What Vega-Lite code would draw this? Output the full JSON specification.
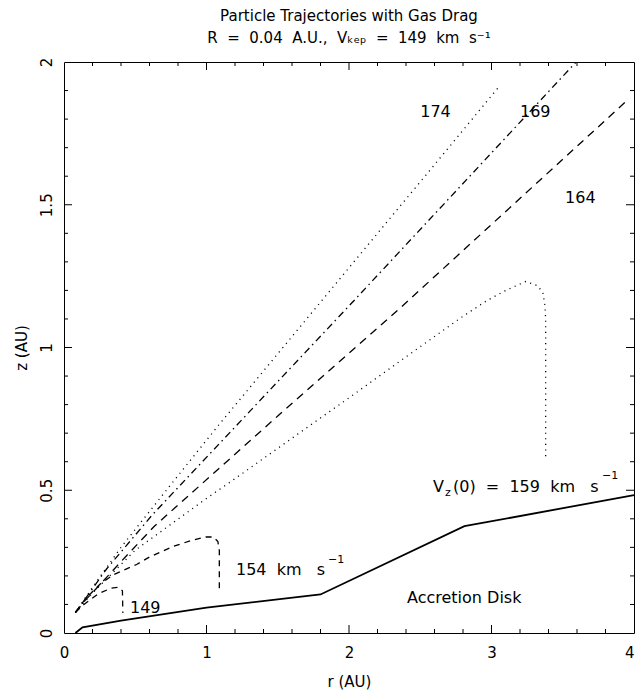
{
  "$schema": "https://vega.github.io/schema/vega-lite/v6.json",
  "width": 570,
  "height": 571,
  "autosize": {"type": "none"},
  "padding": {"left": 64, "top": 62, "right": 4, "bottom": 61},
  "background": "white",
  "title": {
    "text": "Particle Trajectories with Gas Drag",
    "subtitle": "R\u00a0\u00a0=\u00a0\u00a00.04\u00a0\u00a0A.U.,\u00a0\u00a0Vₖₑₚ\u00a0\u00a0=\u00a0\u00a0149\u00a0\u00a0km\u00a0\u00a0s⁻¹",
    "frame": "group",
    "anchor": "middle",
    "font": "DejaVu Sans",
    "fontSize": 15,
    "fontWeight": "normal",
    "color": "black",
    "subtitleFont": "DejaVu Sans",
    "subtitleFontSize": 15,
    "subtitleColor": "black",
    "subtitlePadding": 7,
    "offset": 11
  },
  "config": {
    "view": {"stroke": "black", "strokeWidth": 1},
    "axis": {
      "domain": false,
      "grid": false,
      "labelColor": "black",
      "labelFont": "DejaVu Sans",
      "labelFontSize": 15,
      "titleFont": "DejaVu Sans",
      "titleFontSize": 15,
      "titleFontWeight": "normal",
      "titleColor": "black"
    }
  },
  "datasets": {
    "traj": [
      {"v": "149", "i": 0, "r": 0.08, "z": 0.072},
      {"v": "149", "i": 1, "r": 0.14, "z": 0.1},
      {"v": "149", "i": 2, "r": 0.24, "z": 0.137},
      {"v": "149", "i": 3, "r": 0.33, "z": 0.157},
      {"v": "149", "i": 4, "r": 0.38, "z": 0.16},
      {"v": "149", "i": 5, "r": 0.41, "z": 0.148},
      {"v": "149", "i": 6, "r": 0.413, "z": 0.07},
      {"v": "154", "i": 0, "r": 0.08, "z": 0.072},
      {"v": "154", "i": 1, "r": 0.15, "z": 0.12},
      {"v": "154", "i": 2, "r": 0.25, "z": 0.17},
      {"v": "154", "i": 3, "r": 0.35, "z": 0.205},
      {"v": "154", "i": 4, "r": 0.51, "z": 0.24},
      {"v": "154", "i": 5, "r": 0.6, "z": 0.266},
      {"v": "154", "i": 6, "r": 0.77, "z": 0.304},
      {"v": "154", "i": 7, "r": 0.9, "z": 0.325},
      {"v": "154", "i": 8, "r": 1.0, "z": 0.337},
      {"v": "154", "i": 9, "r": 1.05, "z": 0.336},
      {"v": "154", "i": 10, "r": 1.08, "z": 0.32},
      {"v": "154", "i": 11, "r": 1.09, "z": 0.29},
      {"v": "154", "i": 12, "r": 1.09, "z": 0.15},
      {"v": "159", "i": 0, "r": 0.08, "z": 0.072},
      {"v": "159", "i": 1, "r": 0.2, "z": 0.14},
      {"v": "159", "i": 2, "r": 0.5, "z": 0.29},
      {"v": "159", "i": 3, "r": 1.01, "z": 0.475},
      {"v": "159", "i": 4, "r": 1.17, "z": 0.53},
      {"v": "159", "i": 5, "r": 1.76, "z": 0.739},
      {"v": "159", "i": 6, "r": 1.99, "z": 0.82},
      {"v": "159", "i": 7, "r": 2.36, "z": 0.953},
      {"v": "159", "i": 8, "r": 2.79, "z": 1.106},
      {"v": "159", "i": 9, "r": 2.97, "z": 1.165},
      {"v": "159", "i": 10, "r": 3.1, "z": 1.2},
      {"v": "159", "i": 11, "r": 3.24, "z": 1.231},
      {"v": "159", "i": 12, "r": 3.32, "z": 1.217},
      {"v": "159", "i": 13, "r": 3.36, "z": 1.194},
      {"v": "159", "i": 14, "r": 3.375, "z": 1.147},
      {"v": "159", "i": 15, "r": 3.38, "z": 1.1},
      {"v": "159", "i": 16, "r": 3.38, "z": 0.61},
      {"v": "164", "i": 0, "r": 0.08, "z": 0.072},
      {"v": "164", "i": 1, "r": 0.15, "z": 0.115},
      {"v": "164", "i": 2, "r": 0.25, "z": 0.168},
      {"v": "164", "i": 3, "r": 0.4, "z": 0.25},
      {"v": "164", "i": 4, "r": 0.634, "z": 0.374},
      {"v": "164", "i": 5, "r": 1.5, "z": 0.76},
      {"v": "164", "i": 6, "r": 2.365, "z": 1.141},
      {"v": "164", "i": 7, "r": 3.94, "z": 1.86},
      {"v": "169", "i": 0, "r": 0.08, "z": 0.072},
      {"v": "169", "i": 1, "r": 0.15, "z": 0.12},
      {"v": "169", "i": 2, "r": 0.3, "z": 0.225},
      {"v": "169", "i": 3, "r": 0.622, "z": 0.415},
      {"v": "169", "i": 4, "r": 2.014, "z": 1.153},
      {"v": "169", "i": 5, "r": 3.59, "z": 1.998},
      {"v": "174", "i": 0, "r": 0.08, "z": 0.072},
      {"v": "174", "i": 1, "r": 0.2, "z": 0.16},
      {"v": "174", "i": 2, "r": 0.4, "z": 0.3},
      {"v": "174", "i": 3, "r": 0.75, "z": 0.52},
      {"v": "174", "i": 4, "r": 1.08, "z": 0.725},
      {"v": "174", "i": 5, "r": 2.27, "z": 1.442},
      {"v": "174", "i": 6, "r": 2.54, "z": 1.604},
      {"v": "174", "i": 7, "r": 3.055, "z": 1.915}
    ],
    "disk": [
      {"r": 0.08, "z": 0.0},
      {"r": 0.13, "z": 0.02},
      {"r": 0.4, "z": 0.043},
      {"r": 1.0, "z": 0.089},
      {"r": 1.8, "z": 0.135},
      {"r": 2.81, "z": 0.374},
      {"r": 4.0, "z": 0.483}
    ],
    "xticks": [
      {"r": 0.2, "z": 0, "k": "minor"}, {"r": 0.4, "z": 0, "k": "minor"}, {"r": 0.6, "z": 0, "k": "minor"}, {"r": 0.8, "z": 0, "k": "minor"},
      {"r": 1, "z": 0, "k": "major"},
      {"r": 1.2, "z": 0, "k": "minor"}, {"r": 1.4, "z": 0, "k": "minor"}, {"r": 1.6, "z": 0, "k": "minor"}, {"r": 1.8, "z": 0, "k": "minor"},
      {"r": 2, "z": 0, "k": "major"},
      {"r": 2.2, "z": 0, "k": "minor"}, {"r": 2.4, "z": 0, "k": "minor"}, {"r": 2.6, "z": 0, "k": "minor"}, {"r": 2.8, "z": 0, "k": "minor"},
      {"r": 3, "z": 0, "k": "major"},
      {"r": 3.2, "z": 0, "k": "minor"}, {"r": 3.4, "z": 0, "k": "minor"}, {"r": 3.6, "z": 0, "k": "minor"}, {"r": 3.8, "z": 0, "k": "minor"},
      {"r": 0.2, "z": 2, "k": "minor"}, {"r": 0.4, "z": 2, "k": "minor"}, {"r": 0.6, "z": 2, "k": "minor"}, {"r": 0.8, "z": 2, "k": "minor"},
      {"r": 1, "z": 2, "k": "major"},
      {"r": 1.2, "z": 2, "k": "minor"}, {"r": 1.4, "z": 2, "k": "minor"}, {"r": 1.6, "z": 2, "k": "minor"}, {"r": 1.8, "z": 2, "k": "minor"},
      {"r": 2, "z": 2, "k": "major"},
      {"r": 2.2, "z": 2, "k": "minor"}, {"r": 2.4, "z": 2, "k": "minor"}, {"r": 2.6, "z": 2, "k": "minor"}, {"r": 2.8, "z": 2, "k": "minor"},
      {"r": 3, "z": 2, "k": "major"},
      {"r": 3.2, "z": 2, "k": "minor"}, {"r": 3.4, "z": 2, "k": "minor"}, {"r": 3.6, "z": 2, "k": "minor"}, {"r": 3.8, "z": 2, "k": "minor"}
    ],
    "yticks": [
      {"r": 0, "z": 0.1, "k": "minor"}, {"r": 0, "z": 0.2, "k": "minor"}, {"r": 0, "z": 0.3, "k": "minor"}, {"r": 0, "z": 0.4, "k": "minor"},
      {"r": 0, "z": 0.5, "k": "major"},
      {"r": 0, "z": 0.6, "k": "minor"}, {"r": 0, "z": 0.7, "k": "minor"}, {"r": 0, "z": 0.8, "k": "minor"}, {"r": 0, "z": 0.9, "k": "minor"},
      {"r": 0, "z": 1, "k": "major"},
      {"r": 0, "z": 1.1, "k": "minor"}, {"r": 0, "z": 1.2, "k": "minor"}, {"r": 0, "z": 1.3, "k": "minor"}, {"r": 0, "z": 1.4, "k": "minor"},
      {"r": 0, "z": 1.5, "k": "major"},
      {"r": 0, "z": 1.6, "k": "minor"}, {"r": 0, "z": 1.7, "k": "minor"}, {"r": 0, "z": 1.8, "k": "minor"}, {"r": 0, "z": 1.9, "k": "minor"},
      {"r": 4, "z": 0.1, "k": "minor"}, {"r": 4, "z": 0.2, "k": "minor"}, {"r": 4, "z": 0.3, "k": "minor"}, {"r": 4, "z": 0.4, "k": "minor"},
      {"r": 4, "z": 0.5, "k": "major"},
      {"r": 4, "z": 0.6, "k": "minor"}, {"r": 4, "z": 0.7, "k": "minor"}, {"r": 4, "z": 0.8, "k": "minor"}, {"r": 4, "z": 0.9, "k": "minor"},
      {"r": 4, "z": 1, "k": "major"},
      {"r": 4, "z": 1.1, "k": "minor"}, {"r": 4, "z": 1.2, "k": "minor"}, {"r": 4, "z": 1.3, "k": "minor"}, {"r": 4, "z": 1.4, "k": "minor"},
      {"r": 4, "z": 1.5, "k": "major"},
      {"r": 4, "z": 1.6, "k": "minor"}, {"r": 4, "z": 1.7, "k": "minor"}, {"r": 4, "z": 1.8, "k": "minor"}, {"r": 4, "z": 1.9, "k": "minor"}
    ],
    "labels": [
      {"t": "174", "r": 2.5, "z": 1.807},
      {"t": "169", "r": 3.2, "z": 1.807},
      {"t": "164", "r": 3.516, "z": 1.506},
      {"t": "154\u00a0\u00a0km\u00a0\u00a0\u00a0s", "r": 1.207, "z": 0.203},
      {"t": "149", "r": 0.463, "z": 0.07},
      {"t": "Accretion Disk", "r": 2.407, "z": 0.105},
      {"t": "V", "r": 2.59, "z": 0.495},
      {"t": "(0)\u00a0\u00a0=\u00a0\u00a0159\u00a0\u00a0km\u00a0\u00a0\u00a0s", "r": 2.73, "z": 0.495}
    ],
    "small": [
      {"t": "−1", "r": 1.853, "z": 0.245},
      {"t": "z", "r": 2.674, "z": 0.48},
      {"t": "−1", "r": 3.775, "z": 0.539}
    ]
  },
  "layer": [
    {
      "data": {"name": "traj"},
      "mark": {"type": "line", "strokeWidth": 1.3, "color": "black"},
      "encoding": {
        "x": {
          "field": "r", "type": "quantitative",
          "scale": {"domain": [0, 4], "nice": false, "zero": false},
          "axis": {
            "orient": "bottom",
            "title": "r (AU)",
            "titlePadding": 14,
            "values": [0, 1, 2, 3, 4],
            "format": "d",
            "ticks": false,
            "tickSize": 0,
            "labelPadding": 12,
            "labelFlush": false,
            "labelOverlap": false,
            "labelAlign": {"condition": {"test": "datum.value === 4", "value": "right"}, "value": "center"}
          }
        },
        "y": {
          "field": "z", "type": "quantitative",
          "scale": {"domain": [0, 2], "nice": false, "zero": false},
          "axis": {
            "orient": "left",
            "title": "z (AU)",
            "titlePadding": 10,
            "values": [0, 0.5, 1, 1.5, 2],
            "format": "~g",
            "ticks": false,
            "tickSize": 0,
            "labelAngle": -90,
            "labelPadding": 10,
            "labelFlush": false,
            "labelOverlap": false
          }
        },
        "strokeDash": {
          "field": "v", "type": "nominal", "legend": null,
          "scale": {
            "domain": ["149", "154", "159", "164", "169", "174"],
            "range": [[6, 5], [6, 5], [1.1, 4.5], [8, 6], [7, 4, 1.5, 4], [1.1, 4.5]]
          }
        },
        "detail": {"field": "v"},
        "order": {"field": "i", "type": "quantitative"}
      }
    },
    {
      "data": {"name": "disk"},
      "mark": {"type": "line", "strokeWidth": 1.8, "color": "black"},
      "encoding": {
        "x": {"field": "r", "type": "quantitative", "axis": null},
        "y": {"field": "z", "type": "quantitative", "axis": null},
        "order": {"field": "r", "type": "quantitative"}
      }
    },
    {
      "data": {"name": "xticks"},
      "mark": {"type": "tick", "orient": "vertical", "thickness": 1, "color": "black", "opacity": 1, "clip": true},
      "encoding": {
        "x": {"field": "r", "type": "quantitative", "axis": null},
        "y": {"field": "z", "type": "quantitative", "axis": null},
        "size": {"field": "k", "type": "ordinal", "legend": null, "scale": {"domain": ["major", "minor"], "range": [16, 8]}}
      }
    },
    {
      "data": {"name": "yticks"},
      "mark": {"type": "tick", "orient": "horizontal", "thickness": 1, "color": "black", "opacity": 1, "clip": true},
      "encoding": {
        "x": {"field": "r", "type": "quantitative", "axis": null},
        "y": {"field": "z", "type": "quantitative", "axis": null},
        "size": {"field": "k", "type": "ordinal", "legend": null, "scale": {"domain": ["major", "minor"], "range": [16, 8]}}
      }
    },
    {
      "data": {"name": "labels"},
      "mark": {"type": "text", "font": "DejaVu Sans", "fontSize": 16, "align": "left", "baseline": "alphabetic", "color": "black"},
      "encoding": {
        "x": {"field": "r", "type": "quantitative", "axis": null},
        "y": {"field": "z", "type": "quantitative", "axis": null},
        "text": {"field": "t"}
      }
    },
    {
      "data": {"name": "small"},
      "mark": {"type": "text", "font": "DejaVu Sans", "fontSize": 11, "align": "left", "baseline": "alphabetic", "color": "black"},
      "encoding": {
        "x": {"field": "r", "type": "quantitative", "axis": null},
        "y": {"field": "z", "type": "quantitative", "axis": null},
        "text": {"field": "t"}
      }
    }
  ],
  "resolve": {"axis": {"x": "independent", "y": "independent"}}
}
